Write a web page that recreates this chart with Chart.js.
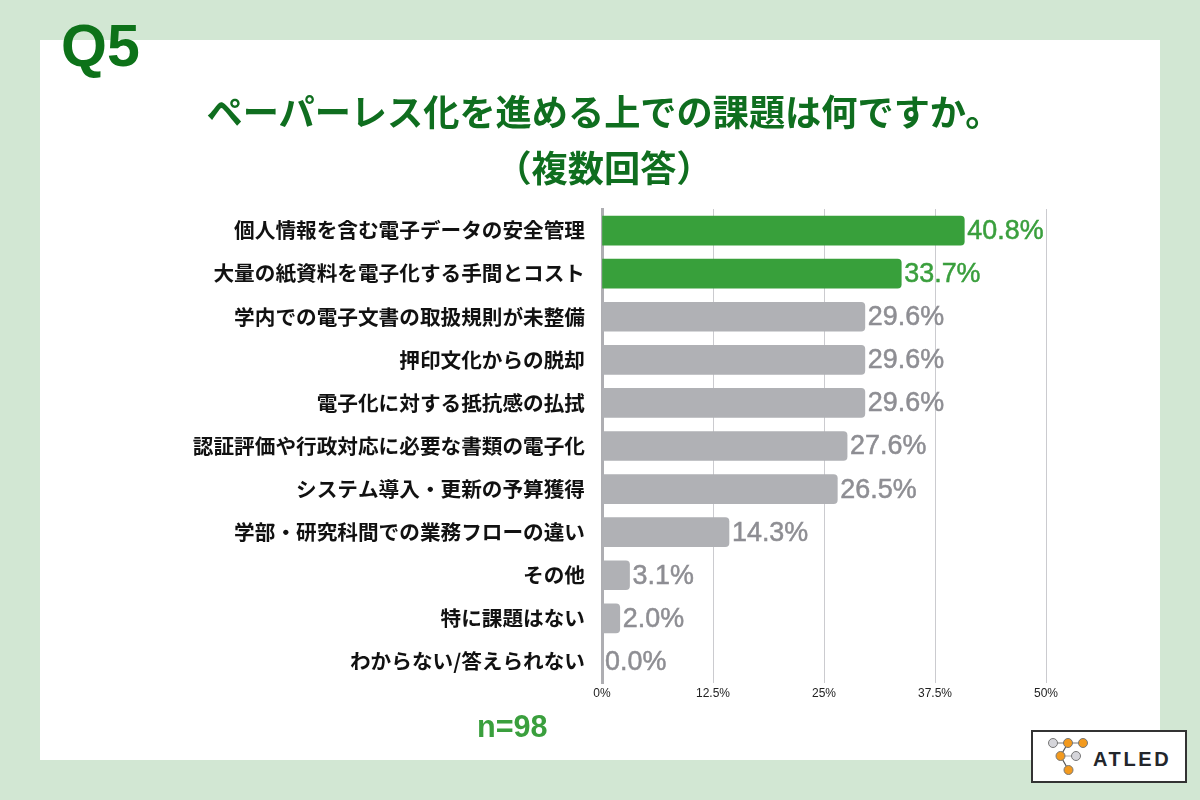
<!DOCTYPE html>
<html lang="ja">
<head>
<meta charset="utf-8">
<title>Q5</title>
<script src="https://cdn.jsdelivr.net/npm/chart.js@4"></script>
<style>
  html, body { margin: 0; padding: 0; }
  body { width: 1200px; height: 800px; background: #d2e7d3; position: relative; overflow: hidden; }
  #panel { position: absolute; left: 40px; top: 40px; width: 1120px; height: 720px; background: #fff; }
  #chartBox { position: absolute; left: 0; top: 0; width: 1200px; height: 800px; }
  .txt { position: absolute; white-space: nowrap; }
  #q { left: 61px; top: 13px; font: bold 59px/66px "Liberation Sans", sans-serif; color: #0d7219; }
  .title { left: 0; width: 1208px; text-align: center; font: bold 36.2px/44px "Noto Sans CJK JP", sans-serif; color: #0f6e1f; }
  #n { left: 477px; top: 709px; font: bold 30.6px/34px "Liberation Sans", sans-serif; color: #3a9f3d; }
  #logo { position: absolute; left: 1031px; top: 730px; width: 156px; height: 53px; box-sizing: border-box; background: #fff; border: 2px solid #333; }
  #logo span { position: absolute; left: 60px; top: 16px; font: bold 20px/22px "Liberation Sans", sans-serif; letter-spacing: 2.6px; color: #23262b; }
  #logo svg { position: absolute; left: 0; top: 0; }
</style>
</head>
<body>
<div id="panel"></div>
<div id="chartBox"><canvas id="chart" width="1200" height="800"></canvas></div>
<div class="txt" id="q">Q5</div>
<div class="txt title" style="top:88px">ペーパーレス化を進める上での課題は何ですか。</div>
<div class="txt title" style="top:144px">（複数回答）</div>
<div class="txt" id="n">n=98</div>
<div id="logo">
  <svg width="60" height="50">
    <path d="M20 11H50" stroke="#777" stroke-width="1" fill="none"/>
    <path d="M35 11L27.5 24L35.5 38" stroke="#555" stroke-width="1.2" fill="none"/>
    <path d="M27.5 24H43" stroke="#aaa" stroke-width="1" fill="none"/>
    <circle cx="20" cy="11" r="4.5" fill="#d5d5da" stroke="#777"/>
    <circle cx="35" cy="11" r="4.5" fill="#f39a1e" stroke="#777"/>
    <circle cx="50" cy="11" r="4.5" fill="#f39a1e" stroke="#777"/>
    <circle cx="27.5" cy="24" r="4.5" fill="#f39a1e" stroke="#777"/>
    <circle cx="43" cy="24" r="4.5" fill="#d5d5da" stroke="#777"/>
    <circle cx="35.5" cy="38" r="4.5" fill="#f39a1e" stroke="#777"/>
  </svg>
  <span>ATLED</span>
</div>
<script>
const categories = [
  "個人情報を含む電子データの安全管理",
  "大量の紙資料を電子化する手間とコスト",
  "学内での電子文書の取扱規則が未整備",
  "押印文化からの脱却",
  "電子化に対する抵抗感の払拭",
  "認証評価や行政対応に必要な書類の電子化",
  "システム導入・更新の予算獲得",
  "学部・研究科間での業務フローの違い",
  "その他",
  "特に課題はない",
  "わからない/答えられない"
];
const values = [40.8, 33.7, 29.6, 29.6, 29.6, 27.6, 26.5, 14.3, 3.1, 2.0, 0.0];
const highlighted = [true, true, false, false, false, false, false, false, false, false, false];

const GREEN = "#38a03b";
const GRAY = "#b0b1b5";
const GREEN_TEXT = "#3a9f3d";
const GRAY_TEXT = "#8e8e93";

// percent labels at the end of each bar
const valueLabels = {
  id: "valueLabels",
  afterDatasetsDraw(chart) {
    const ctx = chart.ctx;
    const bars = chart.getDatasetMeta(0).data;
    ctx.save();
    ctx.font = '26.9px "Liberation Sans", sans-serif';
    ctx.textBaseline = "middle";
    ctx.lineWidth = 0.5;
    bars.forEach((bar, i) => {
      const color = highlighted[i] ? GREEN_TEXT : GRAY_TEXT;
      const label = values[i].toFixed(1) + "%";
      ctx.fillStyle = color;
      ctx.strokeStyle = color;
      ctx.fillText(label, bar.x + 3, bar.y + 1);
      ctx.strokeText(label, bar.x + 3, bar.y + 1);
    });
    ctx.restore();
  }
};

new Chart(document.getElementById("chart"), {
  type: "bar",
  data: {
    labels: categories,
    datasets: [{
      data: values,
      backgroundColor: highlighted.map(h => (h ? GREEN : GRAY)),
      barThickness: 29,
      borderRadius: 4,
      borderSkipped: "left"
    }]
  },
  options: {
    indexAxis: "y",
    responsive: false,
    animation: false,
    layout: { padding: { top: 209, right: 154 } },
    plugins: { legend: { display: false }, tooltip: { enabled: false } },
    scales: {
      x: {
        min: 0,
        max: 50,
        afterFit(scale) { scale.height = 117; },
        border: { display: false },
        grid: { color: "#cbcbcf", lineWidth: 1, drawTicks: false },
        ticks: {
          stepSize: 12.5,
          padding: 3,
          maxRotation: 0,
          color: "#222",
          font: { family: '"Liberation Sans", sans-serif', size: 12 },
          callback: v => v + "%"
        }
      },
      y: {
        afterFit(scale) { scale.width = 602; },
        border: { color: "#aeaeb2", width: 3 },
        grid: { display: false, drawTicks: false },
        ticks: {
          padding: 17,
          color: "#111",
          font: { family: '"Noto Sans CJK JP", sans-serif', size: 20.65, weight: "bold" }
        }
      }
    }
  },
  plugins: [valueLabels]
});
</script>
</body>
</html>
